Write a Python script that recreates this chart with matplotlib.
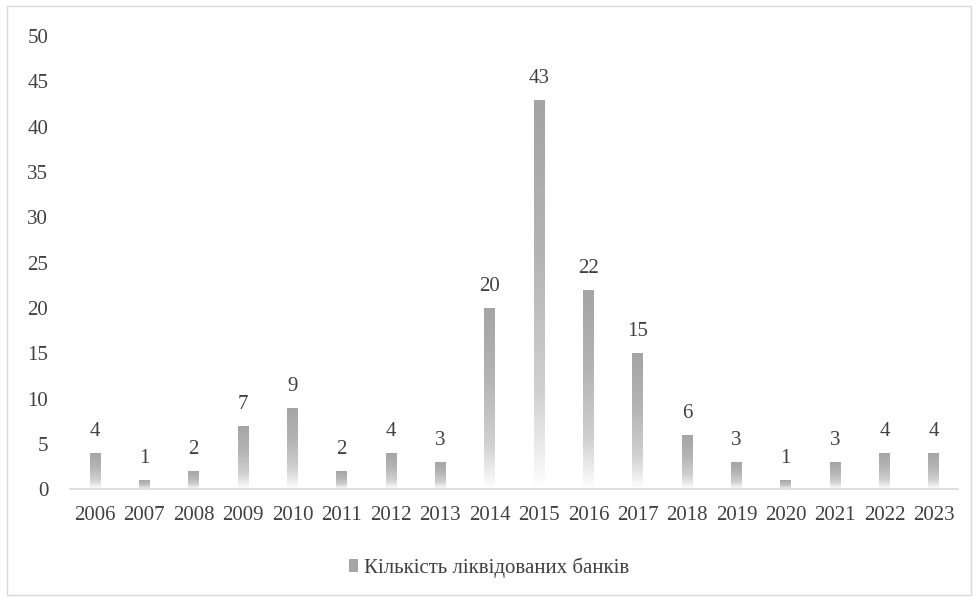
import matplotlib
matplotlib.use('Agg')
import matplotlib.pyplot as plt
from matplotlib.patches import Rectangle
import numpy as np

years = ['2006', '2007', '2008', '2009', '2010', '2011', '2012', '2013', '2014',
         '2015', '2016', '2017', '2018', '2019', '2020', '2021', '2022', '2023']
banks = [4, 1, 2, 7, 9, 2, 4, 3, 20, 43, 22, 15, 6, 3, 1, 3, 4, 4]
series_name = 'Кількість ліквідованих банків'

plt.rcParams['font.family'] = ['Liberation Serif', 'DejaVu Serif']
txt = '#404040'
fs = 15

fig = plt.figure(figsize=(9.78, 6.01), dpi=100)
ax = fig.add_axes([0.072, 0.186, 0.908, 0.754])

# vertical gradient: grey at top of bar, fading to white at the base
grad = np.linspace(0, 1, 256).reshape(-1, 1)
cmap = matplotlib.colors.LinearSegmentedColormap.from_list(
    'g', [(0, '#ffffff'), (0.25, '#d0d0d0'), (0.6, '#b4b4b4'), (1, '#a4a4a4')])

x = np.arange(len(years))
width = 0.22
bars = ax.bar(x, banks, width=width, color='none', edgecolor='none')
for b, v in zip(bars, banks):
    x0 = b.get_x()
    im = ax.imshow(grad, cmap=cmap, aspect='auto', origin='lower',
                   extent=[x0, x0 + width, 0, v], zorder=2)
    im.set_clip_path(b)
    ax.text(b.get_x() + width / 2, v + 1.3, str(v), ha='center', va='bottom',
            fontsize=fs, color=txt)

ax.set_xlim(-0.5, len(years) - 0.5)
ax.set_ylim(0, 50)
ax.set_yticks(range(0, 51, 5))
ax.set_xticks(x)
ax.set_xticklabels(years)
ax.tick_params(axis='both', length=0, labelsize=fs, labelcolor=txt)
ax.tick_params(axis='x', pad=12)
ax.tick_params(axis='y', pad=16)
for s in ['top', 'right', 'left']:
    ax.spines[s].set_visible(False)
ax.spines['bottom'].set_color('#d9d9d9')
ax.spines['bottom'].set_linewidth(1.2)

handle = Rectangle((0, 0), 1, 1, facecolor='#a6a6a6', edgecolor='none')
fig.legend([handle], [series_name], loc='center', bbox_to_anchor=(0.5, 0.055),
           frameon=False, fontsize=fs, handlelength=0.45, handleheight=0.6,
           handletextpad=0.3, labelcolor=txt)

fig.patches.append(Rectangle((0.007, 0.01), 0.986, 0.98, transform=fig.transFigure,
                             fill=False, edgecolor='#d9d9d9', linewidth=1))

fig.savefig('out.png', dpi=100)
